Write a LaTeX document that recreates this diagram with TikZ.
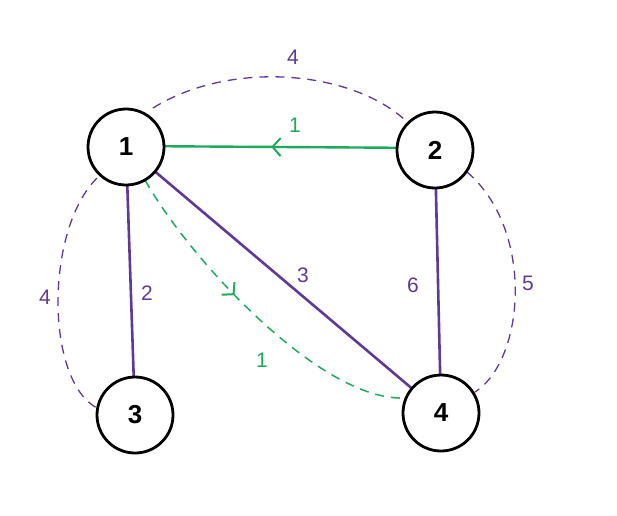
\documentclass[tikz,border=0pt]{standalone}
\usepackage{fontspec}
\setmainfont{Liberation Sans}
\usetikzlibrary{arrows.meta,decorations.markings}
\definecolor{pur}{HTML}{5E3A96}
\definecolor{grn}{HTML}{1DAA5A}
\begin{document}
\begin{tikzpicture}[x=1pt,y=-1pt,
  v/.style={circle,draw=black,line width=2.8pt,minimum size=76pt,font=\bfseries\fontsize{26}{26}\selectfont,fill=white},
  pe/.style={draw=pur,line width=2.6pt},
  pd/.style={draw=pur,line width=1.3pt,dash pattern=on 9pt off 7pt},
  ge/.style={draw=grn,line width=2.4pt},
  gd/.style={draw=grn,line width=1.5pt,dash pattern=on 9pt off 7pt},
  lp/.style={text=pur,font=\fontsize{21}{21}\selectfont},
  lg/.style={text=grn,font=\fontsize{21}{21}\selectfont},
  mark/.style={postaction={decorate,decoration={markings,mark=at position #1 with {\arrow[line width=2pt]{Straight Barb[length=8pt,width=18pt]}}}}}]
\useasboundingbox (0,0) rectangle (617,515);
\path[pd] (153,108) .. controls (230,60) and (350,70) .. (405,120);
\path[pd] (97,178) .. controls (45,230) and (45,380) .. (97,408);
\path[pd] (467,172) .. controls (535,230) and (525,360) .. (475,392);
\path[gd,mark=0.42] (145,180) .. controls (190,260) and (320,400) .. (403,398);
\path[ge,mark=0.53] (435,148) -- (126,146);
\path[pe] (126,147) -- (135,415);
\path[pe] (126,147) -- (441,413);
\path[pe] (435,150) -- (441,413);
\node[v] (n1) at (126,147) {1};
\node[v] (n2) at (435,150) {2};
\node[v] (n3) at (135,415) {3};
\node[v] (n4) at (441,413) {4};
\node[lg] at (295,125) {1};
\node[lp] at (147,293) {2};
\node[lp] at (303,275) {3};
\node[lp] at (413,285) {6};
\node[lp] at (293,57) {4};
\node[lp] at (45,297) {4};
\node[lp] at (528,283) {5};
\node[lg] at (262,360) {1};
\end{tikzpicture}
\end{document}
